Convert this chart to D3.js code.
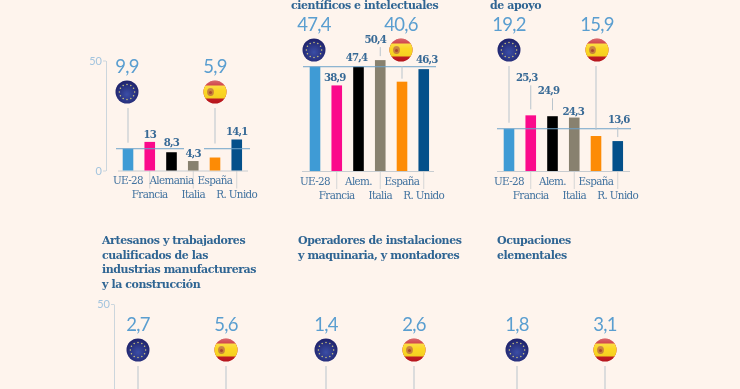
<!DOCTYPE html>
<html><head><meta charset="utf-8">
<script src="https://cdnjs.cloudflare.com/ajax/libs/d3/7.8.5/d3.min.js"></script>
<style>
html,body{margin:0;padding:0;background:#fef4ed;overflow:hidden}
svg{display:block;filter:blur(.3px)}
text{font-family:"Lato","Open Sans",sans-serif}
.serif{font-family:"DejaVu Serif",serif}
</style></head><body>
<svg id="c" width="740" height="389"></svg>
<script>
// ---- data ----
const categoriesFull = ["UE-28","Francia","Alemania","Italia","España","R. Unido"];
const categoriesShort = ["UE-28","Francia","Alem.","Italia","España","R. Unido"];
const valuesTecnicos = [9.9,13,8.3,4.3,5.9,14.1];
const valuesCientificos = [47.4,38.9,47.4,50.4,40.6,46.3];
const valuesApoyo = [19.2,25.3,24.9,24.3,15.9,13.6];
const flagsArtesanos = [2.7,5.6];
const flagsOperadores = [1.4,2.6];
const flagsElementales = [1.8,3.1];
const barColors = ["#3f9bd5","#fb0a8b","#000000","#88816f","#fd8b05","#04508a"];
const fmt = v => String(v).replace(".", ",");

// ---- layout ----
const H = 110, STEP = 21.75;
const panels = [
 {cats:categoriesFull, vals:valuesTecnicos, base:170.5, x0:128, fy:92, axisX:106, ticks:[0,50],
  baseX:[118,248], ref:[[116,184],[204,250]], flagX:[127,215],
  lift:{1:4,2:6,3:4,5:4}, dx:{}, leader:{0:6,4:14}, leaderFlag:[0,4]},
 {cats:categoriesShort, vals:valuesCientificos, base:171, x0:315, fy:50, axisX:null, ticks:[],
  baseX:[302,434], ref:[[303,436]], flagX:[314,401],
  lift:{1:4,2:6,3:17,5:6}, dx:{1:-2,2:-2,3:-5,5:3}, leader:{3:4,4:3}, leaderFlag:[4]},
 {cats:categoriesShort, vals:valuesApoyo, base:171, x0:509, fy:50, axisX:null, ticks:[],
  baseX:[497,630], ref:[[497,631]], flagX:[509,597],
  lift:{1:34,2:22,3:3,5:18}, dx:{1:-4,2:-4,3:-1,5:1}, leader:{0:6,1:6,2:6,4:6,5:4}, leaderFlag:[0,4]}
];
const lower = [
 {vals:flagsArtesanos, x:[138,226], axisX:114},
 {vals:flagsOperadores, x:[326,414], axisX:null},
 {vals:flagsElementales, x:[517,605], axisX:null}
];
const titles = [
 {x:291,y:9,lines:["científicos e intelectuales"]},
 {x:490,y:9,lines:["de apoyo"]},
 {x:102,y:244,lines:["Artesanos y trabajadores","cualificados de las","industrias manufactureras","y la construcción"]},
 {x:298,y:244,lines:["Operadores de instalaciones","y maquinaria, y montadores"]},
 {x:497,y:244,lines:["Ocupaciones","elementales"]}
];
const textBlue="#41729f", boldBlue="#386a96", bigBlue="#5a9ed0", titleBlue="#2f6593", stem="#b9c4cc", tickBlue="#a3c4de";

const svg = d3.select("#c");
svg.append("rect").attr("width",740).attr("height",389).attr("fill","#fef4ed");
const defs = svg.append("defs");
const eu = defs.append("radialGradient").attr("id","eu").attr("cx","50%").attr("cy","60%").attr("r","55%");
eu.append("stop").attr("offset","0%").attr("stop-color","#3b4ea6");
eu.append("stop").attr("offset","100%").attr("stop-color","#20246d");
const gl = defs.append("linearGradient").attr("id","gloss").attr("x1",0).attr("x2",0).attr("y1",0).attr("y2",1);
gl.append("stop").attr("offset","0%").attr("stop-color","#fff").attr("stop-opacity",.35);
gl.append("stop").attr("offset","45%").attr("stop-color","#fff").attr("stop-opacity",.03);
gl.append("stop").attr("offset","100%").attr("stop-color","#000").attr("stop-opacity",.08);
defs.append("clipPath").attr("id","disc").append("circle").attr("r",11.5);

function euFlag(x,y){
  const g=svg.append("g").attr("transform",`translate(${x},${y})`);
  g.append("circle").attr("r",11.5).attr("fill","url(#eu)");
  g.selectAll("circle.s").data(d3.range(12)).join("circle").attr("class","s")
    .attr("r",.75).attr("fill","#cfc77e")
    .attr("cx",i=>7.6*Math.cos(i*Math.PI/6)).attr("cy",i=>7.6*Math.sin(i*Math.PI/6));
}
function esFlag(x,y){
  const g=svg.append("g").attr("transform",`translate(${x},${y})`);
  const c=g.append("g").attr("clip-path","url(#disc)");
  c.append("rect").attr("x",-12).attr("y",-12).attr("width",24).attr("height",24).attr("fill","#c5171e");
  c.append("rect").attr("x",-12).attr("y",-6.5).attr("width",24).attr("height",13).attr("fill","#fbd51c");
  c.append("ellipse").attr("cx",-4.5).attr("cy",0).attr("rx",3.4).attr("ry",4).attr("fill","#c77f35");
  c.append("circle").attr("cx",-4.5).attr("cy",.5).attr("r",1.5).attr("fill","#a8452a");
  g.append("circle").attr("r",11.5).attr("fill","url(#gloss)");
}
function flag(i,x,y){ i===0?euFlag(x,y):esFlag(x,y); }
function bigValue(v,x,y){
  svg.append("text").attr("x",x).attr("y",y-19).attr("text-anchor","middle")
    .attr("font-size",18.5).attr("font-weight",400).attr("fill",bigBlue).attr("letter-spacing",-.7).text(fmt(v));
}
function vAxis(scale,x,ticks){
  const g=svg.append("g").attr("transform",`translate(${x},0)`)
    .call(d3.axisLeft(scale).tickValues(ticks).tickSize(3).tickSizeOuter(0));
  g.select(".domain").attr("stroke","#ccd6dd");
  g.selectAll(".tick line").attr("stroke","#ccd6dd");
  g.selectAll(".tick text").attr("fill",tickBlue).attr("font-size",11).attr("font-family","Lato").attr("dx",2);
}

panels.forEach(p=>{
  const y=d3.scaleLinear().domain([0,50]).range([p.base,p.base-H]);
  const x=d3.scalePoint().domain(p.cats).range([p.x0,p.x0+STEP*5]);
  if(p.axisX!==null) vAxis(y,p.axisX,p.ticks);
  p.cats.forEach((c,i)=>{ if(i%2) svg.append("line").attr("x1",x(c)).attr("x2",x(c)).attr("y1",p.base).attr("y2",p.base+18).attr("stroke","#d5d6d6"); });
  svg.append("line").attr("x1",p.baseX[0]).attr("x2",p.baseX[1]).attr("y1",p.base+.5).attr("y2",p.base+.5).attr("stroke","#c7ccd0");
  svg.selectAll(null).data(p.vals).join("rect")
    .attr("x",(d,i)=>x(p.cats[i])-5.3).attr("width",10.6)
    .attr("y",d=>y(d)).attr("height",d=>p.base-y(d))
    .attr("fill",(d,i)=>barColors[i]);
  p.ref.forEach(r=>svg.append("line").attr("x1",r[0]).attr("x2",r[1]).attr("y1",y(p.vals[0])).attr("y2",y(p.vals[0])).attr("stroke","#6fa3c9").attr("stroke-width",1));
  p.vals.forEach((v,i)=>{
    const cx=x(p.cats[i]), top=y(v);
    if(p.leader[i]!==undefined){
      const fromFlag=p.leaderFlag.includes(i);
      const start=fromFlag?p.fy+16:top-p.lift[i]+4;
      svg.append("line").attr("x1",cx).attr("x2",cx).attr("y1",start).attr("y2",top-p.leader[i]).attr("stroke",stem).attr("stroke-width",1);
    }
    if(i!==0&&i!==4){
      svg.append("text").attr("class","serif").attr("x",cx+(p.dx[i]||0)).attr("y",top-p.lift[i]).attr("text-anchor","middle")
        .attr("font-size",10.2).attr("font-weight",700).attr("fill",boldBlue).attr("letter-spacing",-.8).text(fmt(v));
    }
  });
  p.cats.forEach((c,i)=>{
    svg.append("text").attr("class","serif").attr("x",x(c)).attr("y",i%2?p.base+27.5:p.base+13.5)
      .attr("text-anchor","middle").attr("font-size",10.4).attr("fill",textBlue).attr("letter-spacing",-.65).text(c);
  });
  [0,4].forEach((idx,k)=>{
    flag(k,p.flagX[k],p.fy);
    bigValue(p.vals[idx],p.flagX[k],p.fy);
  });
});

lower.forEach(p=>{
  const base=414;
  const y=d3.scaleLinear().domain([0,50]).range([base,base-H]);
  if(p.axisX!==null) vAxis(y,p.axisX,[50]);
  p.vals.forEach((v,k)=>{
    svg.append("line").attr("x1",p.x[k]).attr("x2",p.x[k]).attr("y1",366).attr("y2",y(v)-6).attr("stroke",stem);
    flag(k,p.x[k],350);
    bigValue(v,p.x[k],350);
  });
});

titles.forEach(t=>t.lines.forEach((l,i)=>{
  svg.append("text").attr("class","serif").attr("x",t.x).attr("y",t.y+i*14.6)
    .attr("font-size",11).attr("font-weight",700).attr("fill",titleBlue).attr("letter-spacing",-.42).text(l);
}));
</script>
</body></html>
